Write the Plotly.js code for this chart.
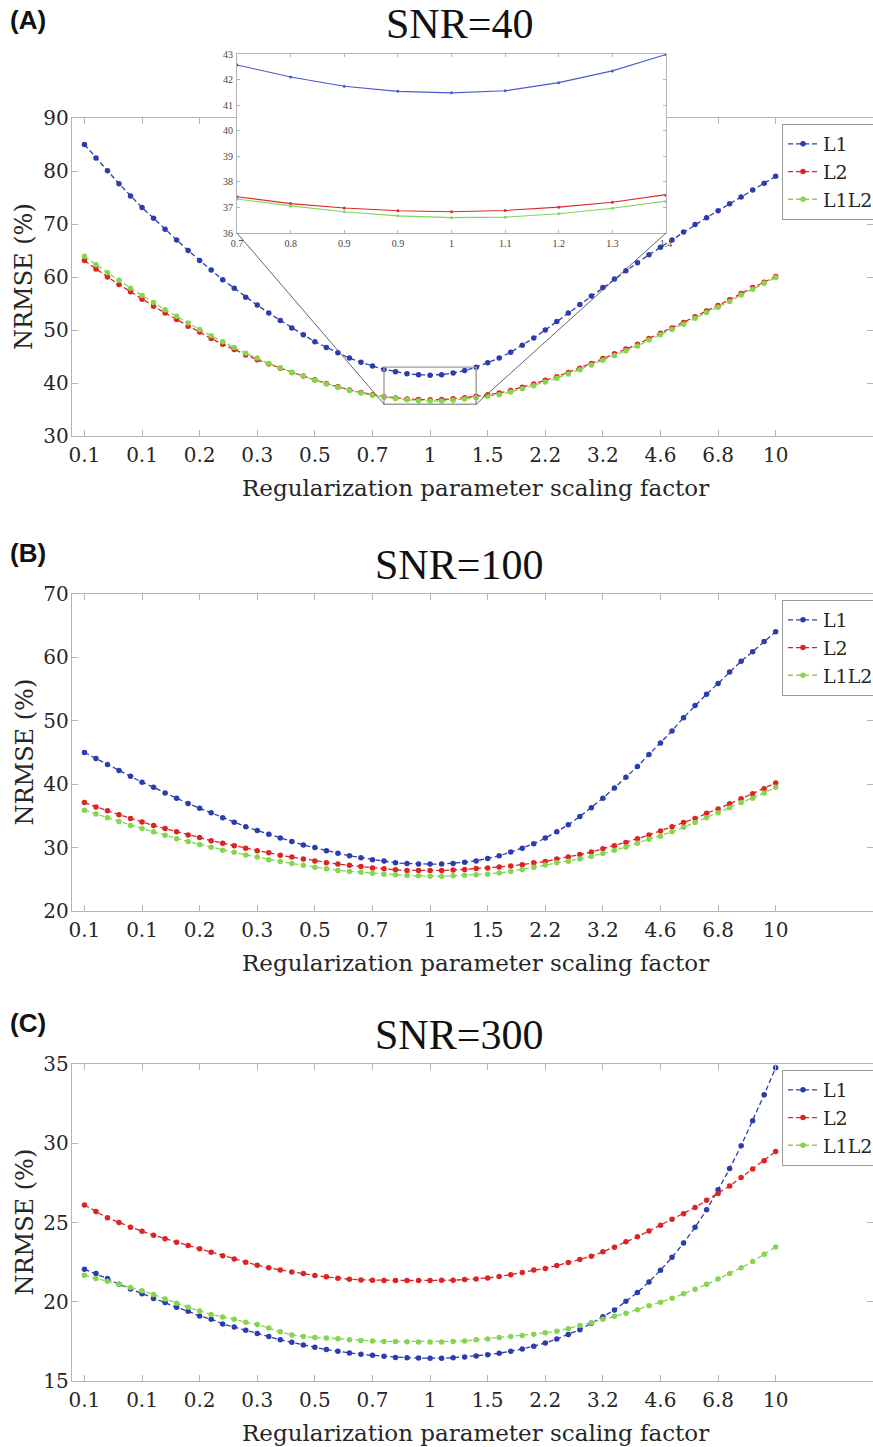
<!DOCTYPE html>
<html>
<head>
<meta charset="utf-8">
<script src="https://cdn.plot.ly/plotly-3.0.1.min.js"></script>
<style>
html,body{margin:0;padding:0;background:#fff;}
#chart{width:873px;height:1447px;}
</style>
</head>
<body>
<div id="chart"></div>
<script>
// ---------------- DATA ----------------
const xValues = [0.1,0.10798,0.11659,0.12589,0.13594,0.14678,0.15849,0.17113,0.18478,0.19953,
  0.21544,0.23263,0.25119,0.27123,0.29286,0.31623,0.34145,0.36869,0.39811,0.42987,
  0.46416,0.50119,0.54117,0.58434,0.63096,0.68129,0.73564,0.79433,0.85770,0.92612,
  1,1.07978,1.16591,1.25893,1.35936,1.46780,1.58489,1.71133,1.84785,1.99526,
  2.15443,2.32631,2.51189,2.71227,2.92864,3.16228,3.41455,3.68695,3.98107,4.29866,
  4.64159,5.01187,5.41170,5.84341,6.30957,6.81292,7.35642,7.94328,8.57696,9.26119,10];

const xTickVals = [0.1,0.14678,0.21544,0.31623,0.46416,0.68129,1,1.46780,2.15443,3.16228,4.64159,6.81292,10];
const xTickText = ['0.1','0.1','0.2','0.3','0.5','0.7','1','1.5','2.2','3.2','4.6','6.8','10'];

const insetTickVals = [0.73564,0.79433,0.85770,0.92612,1,1.07978,1.16591,1.25893,1.35936];
const insetTickText = ['0.7','0.8','0.9','0.9','1','1.1','1.2','1.3','1.4'];
const insetYRange = [36, 43];

const seriesNames = ['L1','L2','L1L2'];
const panelTitles = ['SNR=40','SNR=100','SNR=300'];
const panelLetters = ['(A)','(B)','(C)'];
const xAxisTitle = 'Regularization parameter scaling factor';
const yAxisTitle = 'NRMSE (%)';

// SNR=40
const snr40_L1 = [85.0,82.45,80.05,77.6,75.3,73.1,71.1,69.0,67.0,65.0,
  63.1,61.3,59.5,57.9,56.2,54.7,53.2,51.8,50.4,49.1,
  47.8,46.7,45.7,44.7,43.9,43.2,42.57,42.1,41.74,41.54,
  41.48,41.56,41.88,42.34,42.98,43.8,44.7,45.8,47.1,48.5,
  50.0,51.6,53.2,54.8,56.4,58.0,59.6,61.2,62.7,64.2,
  65.6,67.0,68.5,69.9,71.2,72.5,73.8,75.1,76.4,77.7,79.0];
const snr40_L2 = [63.1,61.5,60.0,58.6,57.2,55.8,54.5,53.2,52.0,50.7,
  49.6,48.4,47.3,46.3,45.3,44.4,43.6,42.8,42.0,41.3,
  40.6,39.9,39.3,38.7,38.2,37.8,37.42,37.15,36.98,36.87,
  36.83,36.88,37.01,37.2,37.48,37.8,38.1,38.6,39.2,39.8,
  40.5,41.2,42.0,42.8,43.7,44.6,45.5,46.4,47.3,48.4,
  49.4,50.4,51.4,52.5,53.6,54.6,55.7,56.9,58.0,59.0,60.1];
const snr40_L1L2 = [63.9,62.3,60.8,59.4,57.9,56.5,55.2,53.8,52.6,51.3,
  50.1,48.9,47.8,46.7,45.6,44.7,43.7,42.9,42.0,41.3,
  40.5,39.8,39.2,38.6,38.1,37.7,37.33,37.06,36.83,36.67,
  36.6,36.62,36.75,36.97,37.23,37.5,37.8,38.3,38.9,39.5,
  40.2,40.9,41.7,42.5,43.4,44.3,45.2,46.1,47.0,48.1,
  49.1,50.1,51.1,52.2,53.3,54.3,55.4,56.6,57.7,58.8,59.9];

// SNR=100
const snr100_L1 = [45.0,44.05,43.1,42.16,41.26,40.3,39.5,38.6,37.8,36.95,
  36.2,35.5,34.7,34.0,33.3,32.7,32.1,31.5,30.95,30.4,
  30.0,29.5,29.1,28.7,28.4,28.1,27.9,27.6,27.5,27.4,
  27.4,27.4,27.5,27.7,27.9,28.3,28.7,29.3,29.9,30.6,
  31.5,32.5,33.6,34.9,36.3,37.8,39.4,41.1,42.8,44.7,
  46.5,48.4,50.5,52.4,54.2,55.9,57.7,59.4,60.9,62.5,64.05];
const snr100_L2 = [37.1,36.4,35.8,35.2,34.6,34.05,33.5,33.0,32.5,32.0,
  31.6,31.1,30.7,30.3,29.9,29.5,29.2,28.8,28.5,28.2,
  27.9,27.6,27.4,27.2,27.0,26.8,26.65,26.5,26.4,26.38,
  26.38,26.4,26.45,26.55,26.7,26.8,26.95,27.1,27.3,27.6,
  27.8,28.2,28.5,28.9,29.3,29.8,30.3,30.8,31.4,32.0,
  32.6,33.3,33.95,34.6,35.4,36.1,36.9,37.7,38.5,39.3,40.2];
const snr100_L1L2 = [35.9,35.3,34.7,34.1,33.5,33.0,32.5,31.95,31.4,30.95,
  30.5,30.05,29.6,29.25,28.85,28.5,28.1,27.8,27.5,27.2,
  26.9,26.65,26.4,26.25,26.1,25.95,25.8,25.7,25.6,25.55,
  25.5,25.5,25.55,25.65,25.7,25.8,26.0,26.25,26.55,26.9,
  27.25,27.6,27.85,28.2,28.6,29.05,29.6,30.1,30.7,31.3,
  31.8,32.5,33.2,33.95,34.7,35.5,36.3,37.1,37.8,38.6,39.5];

// SNR=300
const snr300_L1 = [22.05,21.78,21.46,21.1,20.8,20.5,20.2,19.95,19.65,19.4,
  19.1,18.9,18.6,18.4,18.2,17.99,17.8,17.6,17.44,17.27,
  17.13,16.98,16.87,16.77,16.68,16.62,16.56,16.49,16.47,16.45,
  16.43,16.44,16.47,16.52,16.58,16.66,16.75,16.87,17.02,17.2,
  17.4,17.65,17.93,18.24,18.65,19.06,19.48,20.03,20.58,21.25,
  21.99,22.8,23.7,24.7,25.8,27.06,28.4,29.84,31.42,33.06,34.77];
const snr300_L2 = [26.1,25.7,25.3,25.0,24.7,24.45,24.2,23.97,23.76,23.55,
  23.34,23.13,22.9,22.7,22.5,22.3,22.14,22.0,21.88,21.78,
  21.65,21.57,21.48,21.42,21.38,21.36,21.34,21.34,21.34,21.34,
  21.34,21.36,21.36,21.4,21.44,21.5,21.59,21.7,21.84,22.0,
  22.1,22.28,22.47,22.66,22.87,23.15,23.44,23.78,24.1,24.47,
  24.83,25.2,25.55,25.95,26.4,26.83,27.3,27.84,28.37,28.9,29.48];
const snr300_L1L2 = [21.67,21.46,21.3,21.1,20.9,20.7,20.45,20.18,19.9,19.65,
  19.42,19.2,19.04,18.9,18.7,18.56,18.35,18.1,17.9,17.8,
  17.74,17.72,17.67,17.6,17.55,17.53,17.5,17.5,17.48,17.46,
  17.46,17.46,17.5,17.53,17.6,17.65,17.74,17.8,17.87,17.95,
  18.04,18.14,18.3,18.5,18.68,18.9,19.08,19.27,19.5,19.74,
  19.97,20.22,20.5,20.79,21.1,21.44,21.78,22.14,22.54,23.0,23.46];

const panelSeries = [
  [snr40_L1, snr40_L2, snr40_L1L2],
  [snr100_L1, snr100_L2, snr100_L1L2],
  [snr300_L1, snr300_L2, snr300_L1L2]
];

// ---------------- STYLE / LAYOUT ----------------
const W = 873, H = 1447;
const colors = ['#2b3cae', '#de2323', '#86d54e'];
const insetColors = ['#4a5ad0', '#d82c2c', '#7fd85a'];
const serif = 'DejaVu Serif';
const titleSerif = 'Liberation Serif';
const axisGray = '#b4b4b4';
const textCol = '#262626';

const plotLeft = 72, plotRight = 873;
const panelPx = [ {top:118, bottom:436, yr:[30,90], dt:10, title:24, letter:20},
                  {top:594, bottom:911, yr:[20,70], dt:10, title:565, letter:553},
                  {top:1064, bottom:1381, yr:[15,35], dt:5, title:1035, letter:1023} ];
const xRange = [-1.036, 1.2815];
const inset = {left:237, right:666, top:54, bottom:233};

const py = v => 1 - v / H;
const pxX = v => v / W;

const traces = [];
const layout = {
  width: W, height: H,
  margin: {l:0, r:0, t:0, b:0, autoexpand: false},
  paper_bgcolor: '#fff', plot_bgcolor: '#fff',
  showlegend: true,
  font: {family: serif, color: textCol},
  annotations: [], shapes: []
};

panelPx.forEach((p, i) => {
  const n = i === 0 ? '' : String(i + 1);
  const xa = 'xaxis' + n, ya = 'yaxis' + n;
  const legendId = i === 0 ? 'legend' : 'legend' + (i + 1);
  layout[xa] = {
    domain: [pxX(plotLeft), pxX(plotRight)], anchor: 'y' + n,
    type: 'log', range: xRange,
    tickmode: 'array', tickvals: xTickVals, ticktext: xTickText,
    ticks: 'inside', ticklen: 6, tickcolor: axisGray, tickwidth: 1,
    showline: true, linecolor: axisGray, linewidth: 1.2, mirror: 'ticks',
    showgrid: false, zeroline: false,
    tickfont: {family: serif, size: 20, color: textCol},
    ticklabelstandoff: 1
  };
  layout[ya] = {
    domain: [py(p.bottom), py(p.top)], anchor: 'x' + n,
    range: p.yr, dtick: p.dt, tick0: 0,
    ticks: 'inside', ticklen: 6, tickcolor: axisGray, tickwidth: 1,
    showline: true, linecolor: axisGray, linewidth: 1.2, mirror: 'ticks',
    showgrid: false, zeroline: false,
    tickfont: {family: serif, size: 20, color: textCol},
    ticklabelstandoff: -2
  };
  layout[legendId] = {
    x: pxX(782), y: py(p.top + 6), xanchor: 'left', yanchor: 'top',
    bgcolor: '#fff', bordercolor: '#9a9a9a', borderwidth: 1,
    font: {family: serif, size: 19, color: textCol},
    itemwidth: 30, tracegroupgap: 0
  };
  panelSeries[i].forEach((ys, s) => {
    traces.push({
      x: xValues, y: ys, name: seriesNames[s], type: 'scatter',
      mode: 'lines+markers', xaxis: 'x' + n, yaxis: 'y' + n,
      legend: legendId,
      line: {color: colors[s], width: 1.3, dash: '5px,3px'},
      marker: {color: colors[s], size: 5.5}
    });
  });
  layout.annotations.push({
    text: panelTitles[i], xref: 'paper', yref: 'paper',
    x: pxX(459), y: py(p.title), xanchor: 'center', yanchor: 'middle',
    showarrow: false, font: {family: titleSerif, size: 42, color: '#111'}
  });
  layout.annotations.push({
    text: '<b>' + panelLetters[i] + '</b>', xref: 'paper', yref: 'paper',
    x: pxX(8), y: py(p.letter), xanchor: 'left', yanchor: 'middle',
    showarrow: false, font: {family: 'Liberation Sans', size: 26, color: '#111'}
  });
  layout.annotations.push({
    text: xAxisTitle, xref: 'paper', yref: 'paper',
    x: pxX(476), y: py(p.bottom + 52), xanchor: 'center', yanchor: 'middle',
    showarrow: false, font: {family: serif, size: 23, color: textCol}
  });
  layout.annotations.push({
    text: yAxisTitle, xref: 'paper', yref: 'paper', textangle: -90,
    x: pxX(24), y: py((p.top + p.bottom) / 2), xanchor: 'center', yanchor: 'middle',
    showarrow: false, font: {family: serif, size: 24, color: textCol}
  });
});

// ---------------- INSET (panel A) ----------------
layout.xaxis4 = {
  domain: [pxX(inset.left), pxX(inset.right)], anchor: 'y4',
  type: 'log', range: [Math.log10(insetTickVals[0]), Math.log10(insetTickVals[insetTickVals.length - 1])],
  tickmode: 'array', tickvals: insetTickVals, ticktext: insetTickText,
  ticks: 'inside', ticklen: 3, tickcolor: axisGray,
  showline: true, linecolor: axisGray, linewidth: 1, mirror: 'ticks',
  showgrid: false, zeroline: false,
  tickfont: {family: titleSerif, size: 10, color: '#444'}, ticklabelstandoff: 1
};
layout.yaxis4 = {
  domain: [py(inset.bottom), py(inset.top)], anchor: 'x4',
  range: insetYRange, dtick: 1,
  ticks: 'inside', ticklen: 3, tickcolor: axisGray,
  showline: true, linecolor: axisGray, linewidth: 1, mirror: 'ticks',
  showgrid: false, zeroline: false,
  tickfont: {family: titleSerif, size: 10, color: '#444'}, ticklabelstandoff: 1
};
panelSeries[0].forEach((ys, s) => {
  traces.push({
    x: xValues, y: ys, name: seriesNames[s], type: 'scatter', mode: 'lines+markers',
    xaxis: 'x4', yaxis: 'y4', showlegend: false, cliponaxis: true,
    line: {color: insetColors[s], width: 1.1},
    marker: {color: insetColors[s], size: 3}
  });
});

// zoom rectangle in panel A (data coordinates of the inset window)
const zx0 = insetTickVals[0], zx1 = insetTickVals[insetTickVals.length - 1];
layout.shapes.push({
  type: 'rect', xref: 'x', yref: 'y',
  x0: zx0, x1: zx1, y0: insetYRange[0], y1: insetYRange[1],
  line: {color: '#9d9d9d', width: 1.4}, fillcolor: 'rgba(0,0,0,0)'
});
// connector lines: map data corners through panel-A axis scale to paper coords
const dA = layout.xaxis.domain, dyA = layout.yaxis.domain, yrA = layout.yaxis.range;
const toPaperX = v => dA[0] + (Math.log10(v) - xRange[0]) / (xRange[1] - xRange[0]) * (dA[1] - dA[0]);
const toPaperY = v => dyA[0] + (v - yrA[0]) / (yrA[1] - yrA[0]) * (dyA[1] - dyA[0]);
const ib = layout.yaxis4.domain[0];
[[layout.xaxis4.domain[0], zx0], [layout.xaxis4.domain[1], zx1]].forEach(([ix, dx]) => {
  layout.shapes.push({
    type: 'line', xref: 'paper', yref: 'paper',
    x0: ix, y0: ib, x1: toPaperX(dx), y1: toPaperY(insetYRange[0]),
    line: {color: '#555', width: 0.9}
  });
});

Plotly.newPlot('chart', traces, layout, {displayModeBar: false, staticPlot: true});
</script>
</body>
</html>
